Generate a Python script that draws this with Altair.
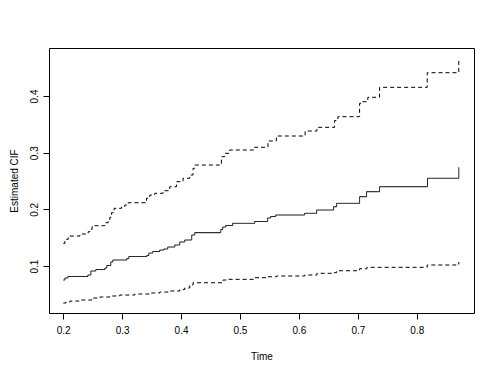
import altair as alt
import pandas as pd

# Middle (estimate) curve: step times and values
mid_t = [0.2003, 0.2029, 0.208, 0.2419, 0.247, 0.2554, 0.2707, 0.2741, 0.2808, 0.2842,
         0.3079, 0.3114, 0.3419, 0.3453, 0.352, 0.3639, 0.3707, 0.3774, 0.3893, 0.3978,
         0.4062, 0.4181, 0.4232, 0.4673, 0.4707, 0.4758, 0.4876, 0.5249, 0.5469, 0.552,
         0.5605, 0.6097, 0.63, 0.6588, 0.6639, 0.7029, 0.7147, 0.7368, 0.8181, 0.8712, 0.8712]
mid_v = [0.0753, 0.0788, 0.0815, 0.0841, 0.0912, 0.0938, 0.0965, 0.1009, 0.1071, 0.1106,
         0.1132, 0.1168, 0.1185, 0.1229, 0.1256, 0.1282, 0.13, 0.1335, 0.1371, 0.1424,
         0.1459, 0.1547, 0.1588, 0.1644, 0.1688, 0.1715, 0.1753, 0.1785, 0.1847, 0.1873,
         0.19, 0.193, 0.1988, 0.2046, 0.2106, 0.2223, 0.2311, 0.2399, 0.2548, 0.2548, 0.2742]

# Upper confidence band
up_t = [0.2003, 0.2029, 0.2058, 0.2085, 0.2283, 0.2424, 0.2453, 0.2492, 0.2707, 0.2763,
        0.2792, 0.282, 0.2864, 0.299, 0.3046, 0.3102, 0.3414, 0.347, 0.3554, 0.3695,
        0.3808, 0.3922, 0.4034, 0.4147, 0.4203, 0.4232, 0.4685, 0.4741, 0.4826, 0.5249,
        0.5475, 0.5617, 0.6105, 0.6305, 0.6605, 0.6661, 0.7029, 0.7063, 0.7169, 0.7368,
        0.8176, 0.8712, 0.8712]
up_v = [0.1397, 0.1441, 0.1471, 0.1529, 0.1565, 0.1605, 0.1648, 0.1711, 0.1764, 0.1812,
        0.1859, 0.1941, 0.2018, 0.2046, 0.2076, 0.2117, 0.2195, 0.2253, 0.2283, 0.2329,
        0.2399, 0.2488, 0.2548, 0.2606, 0.2724, 0.2782, 0.2929, 0.2989, 0.3047, 0.3095,
        0.3206, 0.3294, 0.3382, 0.3447, 0.3568, 0.3635, 0.3871, 0.3899, 0.3977, 0.4153,
        0.4411, 0.4411, 0.4623]

# Lower confidence band
lo_t = [0.2003, 0.2046, 0.2114, 0.2283, 0.2486, 0.2622, 0.2792, 0.2961, 0.3215, 0.3469,
        0.3639, 0.3808, 0.3978, 0.4062, 0.4147, 0.4203, 0.4712, 0.4769, 0.5249, 0.5475,
        0.5617, 0.6097, 0.6305, 0.6588, 0.6639, 0.7029, 0.7153, 0.8176, 0.8712, 0.8712]
lo_v = [0.0347, 0.0365, 0.0382, 0.04, 0.0435, 0.0453, 0.0471, 0.0488, 0.0506, 0.0524,
        0.0541, 0.0559, 0.0585, 0.0612, 0.0665, 0.0705, 0.0753, 0.0765, 0.0794, 0.0811,
        0.0824, 0.0841, 0.0871, 0.0882, 0.0917, 0.0952, 0.0977, 0.1018, 0.1018, 0.1071]

x_ticks = [0.2, 0.3, 0.4, 0.5, 0.6, 0.7, 0.8]
y_ticks = [0.1, 0.2, 0.3, 0.4]

df_mid = pd.DataFrame({"t": mid_t, "v": mid_v, "o": range(len(mid_t))})
df_up = pd.DataFrame({"t": up_t, "v": up_v, "o": range(len(up_t))})
df_lo = pd.DataFrame({"t": lo_t, "v": lo_v, "o": range(len(lo_t))})

W, H = 425, 265
FONT = "Liberation Sans"

xs = alt.Scale(domain=[0.176, 0.897], nice=False, zero=False)
ys = alt.Scale(domain=[0.0171, 0.4847], nice=False, zero=False)

xax = alt.Axis(values=x_ticks, format=".1f", title="Time", grid=False, domain=False,
               tickColor="black", tickSize=6, labelPadding=6, labelFont=FONT,
               labelFontSize=10, labelColor="black", titleFont=FONT, titleFontSize=10,
               titleFontWeight="normal", titleColor="black", titleX=W / 2, titleY=43,
               titleBaseline="middle", titleAlign="center")
yax = alt.Axis(values=y_ticks, format=".1f", title="Estimated CIF", grid=False, domain=False,
               tickColor="black", tickSize=6, labelPadding=4, labelFont=FONT,
               labelFontSize=10, labelColor="black", labelAngle=270, labelAlign="center",
               labelBaseline="bottom", titleFont=FONT, titleFontSize=10,
               titleFontWeight="normal", titleColor="black", titleX=-35, titleY=H / 2,
               titleAngle=270, titleBaseline="middle", titleAlign="center")


def layer(df, dash):
    enc = dict(
        x=alt.X("t:Q", scale=xs, axis=xax, title="Time"),
        y=alt.Y("v:Q", scale=ys, axis=yax, title="Estimated CIF"),
        order="o:Q",
    )
    m = alt.Chart(df).mark_line(interpolate="step-after", color="black", strokeWidth=1,
                                strokeDash=dash, clip=True)
    return m.encode(**enc)


chart = alt.layer(
    layer(df_mid, [1, 0]),
    layer(df_up, [4, 3]),
    layer(df_lo, [4, 3]),
).properties(
    width=W, height=H,
    autosize=alt.AutoSizeParams(type="none"),
    padding={"left": 41, "top": 40, "right": 18, "bottom": 58},
    background="white",
).configure_view(stroke="black", strokeWidth=1)

chart.save("out.html", embed_options={"renderer": "svg", "actions": False})
